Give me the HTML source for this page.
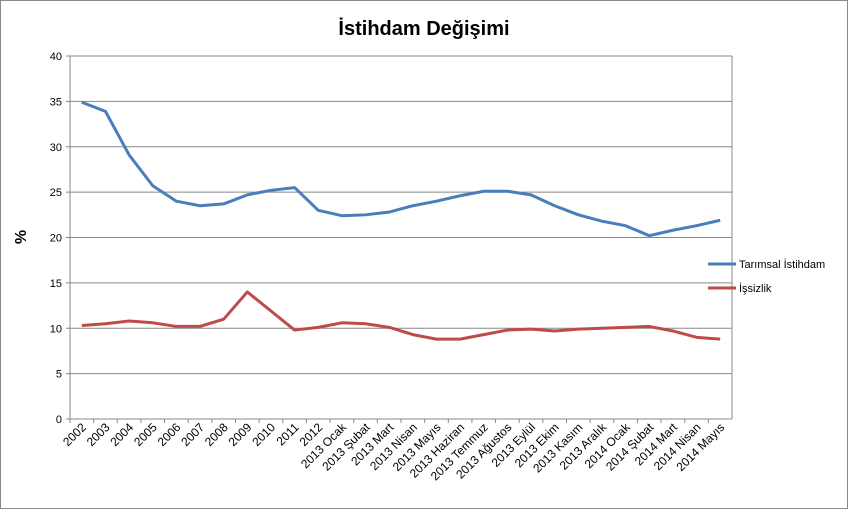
<!DOCTYPE html>
<html><head><meta charset="utf-8"><style>
body{margin:0;background:#fff}
svg{display:block;font-family:"Liberation Sans",sans-serif}
</style></head><body>
<svg id="c" width="848" height="509">
<rect x="0.5" y="0.5" width="847" height="508" fill="#fff" stroke="#888"/>
<text x="424" y="35" text-anchor="middle" font-size="20" font-weight="bold">İstihdam Değişimi</text>
<text x="26" y="237" text-anchor="middle" font-size="16" font-weight="bold" transform="rotate(-90 26 237)">%</text>
<g id="grid"></g><g id="xl"></g><g id="series"></g>
<g>
<line x1="708" y1="264" x2="736" y2="264" stroke="#4a7ebb" stroke-width="3"/>
<text x="739" y="268" font-size="11">Tarımsal İstihdam</text>
<line x1="708" y1="288" x2="736" y2="288" stroke="#be4b48" stroke-width="3"/>
<text x="739" y="292" font-size="11">İşsizlik</text>
</g>
</svg>
<script>
const categories=["2002","2003","2004","2005","2006","2007","2008","2009","2010","2011","2012","2013 Ocak","2013 Şubat","2013 Mart","2013 Nisan","2013 Mayıs","2013 Haziran","2013 Temmuz","2013 Ağustos","2013 Eylül","2013 Ekim","2013 Kasım","2013 Aralık","2014 Ocak","2014 Şubat","2014 Mart","2014 Nisan","2014 Mayıs"];
const tarimsal=[34.9,33.9,29.1,25.7,24.0,23.5,23.7,24.7,25.2,25.5,23.0,22.4,22.5,22.8,23.5,24.0,24.6,25.1,25.1,24.7,23.5,22.5,21.8,21.3,20.2,20.8,21.3,21.9];
const issizlik=[10.3,10.5,10.8,10.6,10.2,10.2,11.0,14.0,11.9,9.8,10.1,10.6,10.5,10.1,9.3,8.8,8.8,9.3,9.8,9.9,9.7,9.9,10.0,10.1,10.2,9.7,9.0,8.8];
const yTicks=[0,5,10,15,20,25,30,35,40];
const L=70,R=732,T=56,B=419,NS="http://www.w3.org/2000/svg";
const x=i=>L+(R-L)/categories.length*(i+0.5);
const y=v=>B-(B-T)*v/40;
function mk(t,a,p){const e=document.createElementNS(NS,t);for(const k in a)e.setAttribute(k,a[k]);p.appendChild(e);return e;}
const g=document.getElementById('grid');
yTicks.forEach(v=>{
 const l=mk('line',{x1:L-4,x2:R,y1:y(v),y2:y(v),stroke:'#888','stroke-width':1},g);
 
 
 const t=mk('text',{x:L-8,y:y(v)+4,'text-anchor':'end','font-size':11},g);t.textContent=v;
 
 
});
const ax=mk('line',{x1:L,x2:L,y1:T,y2:B,stroke:'#888'},g);


const ax2=mk('line',{x1:R,x2:R,y1:T,y2:B,stroke:'#888'},g);


const xl=document.getElementById('xl');
categories.forEach((c,i)=>{
 const tk=mk('line',{x1:L+(R-L)/categories.length*i,x2:L+(R-L)/categories.length*i,y1:B,y2:B+4,stroke:'#888'},xl);
 
 
 const px=x(i)+5,py=B+9;
 const t=mk('text',{x:px,y:py,'text-anchor':'end','font-size':12,transform:`rotate(-45 ${px} ${py})`},xl);
 t.textContent=c;
 
 
});
const s=document.getElementById('series');
[[tarimsal,'#4a7ebb','line-tarimsal-istihdam'],[issizlik,'#be4b48','line-issizlik']].forEach(([d,col,n])=>{
 const p=mk('polyline',{points:d.map((v,i)=>x(i)+','+y(v)).join(' '),fill:'none',stroke:col,'stroke-width':3,'stroke-linejoin':'round'},s);
 
 
});
</script>
</body></html>
